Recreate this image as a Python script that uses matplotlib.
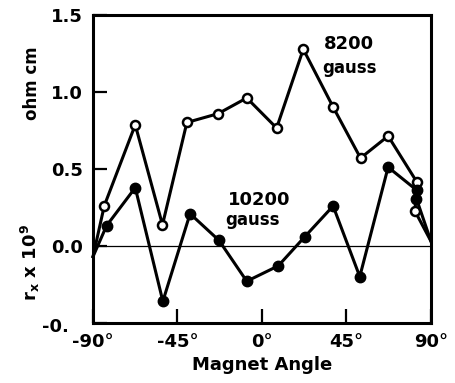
"""Transverse resistivity vs magnet angle at two field strengths."""
import matplotlib
matplotlib.use('Agg')
import matplotlib.pyplot as plt
import matplotlib.transforms as mtransforms

plt.rcParams.update({
    'font.family': 'DejaVu Sans',
    'font.weight': 'bold',
    'axes.labelweight': 'bold',
    'font.size': 12,
})

# 8200 gauss (open circles)
angle_8200 = [-90, -84, -67.5, -53, -40, -23.4, -8.1, 7.8, 22, 37.9, 52.5, 67.2, 82.5, 81.5, 90]
r_8200 = [-0.07, 0.26, 0.785, 0.136, 0.80, 0.857, 0.959, 0.764, 1.275, 0.90, 0.569, 0.712, 0.414, 0.225, 0.03]

# 10200 gauss (filled circles)
angle_10200 = [-90, -82.8, -67.5, -52.8, -38.3, -22.9, -8.1, 8.7, 22.9, 37.9, 52.1, 67.2, 82.5, 82.3, 90]
r_10200 = [-0.07, 0.13, 0.377, -0.36, 0.208, 0.035, -0.23, -0.13, 0.06, 0.258, -0.20, 0.51, 0.36, 0.305, 0.03]

xticks = [-90, -45, 0, 45, 90]
xtick_labels = ['-90°', '-45°', '0°', '45°', '90°']
yticks = [-0.5, 0.0, 0.5, 1.0, 1.5]
ytick_labels = ['-0.', '0.0', '0.5', '1.0', '1.5']

fig = plt.figure(figsize=(4.56, 3.83), dpi=100)
ax = fig.add_axes([0.204, 0.157, 0.741, 0.805])

ax.axhline(0, color='black', linewidth=0.9, zorder=1)

ax.plot(angle_8200, r_8200, color='black', linewidth=2.2, marker='o',
        markersize=6.5, markerfacecolor='white', markeredgewidth=1.8,
        markevery=list(range(1, len(angle_8200) - 1)), zorder=3, clip_on=False)
ax.plot(angle_10200, r_10200, color='black', linewidth=2.2, marker='o',
        markersize=7.5, markerfacecolor='black',
        markevery=list(range(1, len(angle_10200) - 1)), zorder=3, clip_on=False)

ax.set_xlim(-90, 90)
ax.set_ylim(-0.5, 1.5)
ax.set_xticks(xticks)
ax.set_xticklabels(xtick_labels)
ax.set_yticks(yticks)
ax.set_yticklabels(ytick_labels)
ax.tick_params(direction='in', length=10, width=1.6, pad=7, labelsize=13)

for s in ax.spines.values():
    s.set_linewidth(2.2)

# shift the truncated "-0." label left like the original
lab = ax.get_yticklabels()[0]
lab.set_transform(lab.get_transform() +
                  mtransforms.ScaledTranslation(-14 / 100, -2 / 100, fig.dpi_scale_trans))

ax.text(46.3, 1.312, '8200', ha='center', va='center', fontsize=13)
ax.text(46.5, 1.156, 'gauss', ha='center', va='center', fontsize=12)
ax.text(-1.6, 0.299, '10200', ha='center', va='center', fontsize=13)
ax.text(-4.8, 0.169, 'gauss', ha='center', va='center', fontsize=12)

ax.set_xlabel('Magnet Angle', fontsize=13, fontweight='bold', labelpad=4)

fig.text(32 / 456, 1 - 83 / 383, 'ohm cm', rotation=90, ha='center', va='center', fontsize=12)
fig.text(30 / 456, 1 - 263 / 383, r'r$_\mathbf{x}$ x 10$^\mathbf{9}$', rotation=90,
         ha='center', va='center', fontsize=13)

fig.savefig('out.png', dpi=100, facecolor='white')
